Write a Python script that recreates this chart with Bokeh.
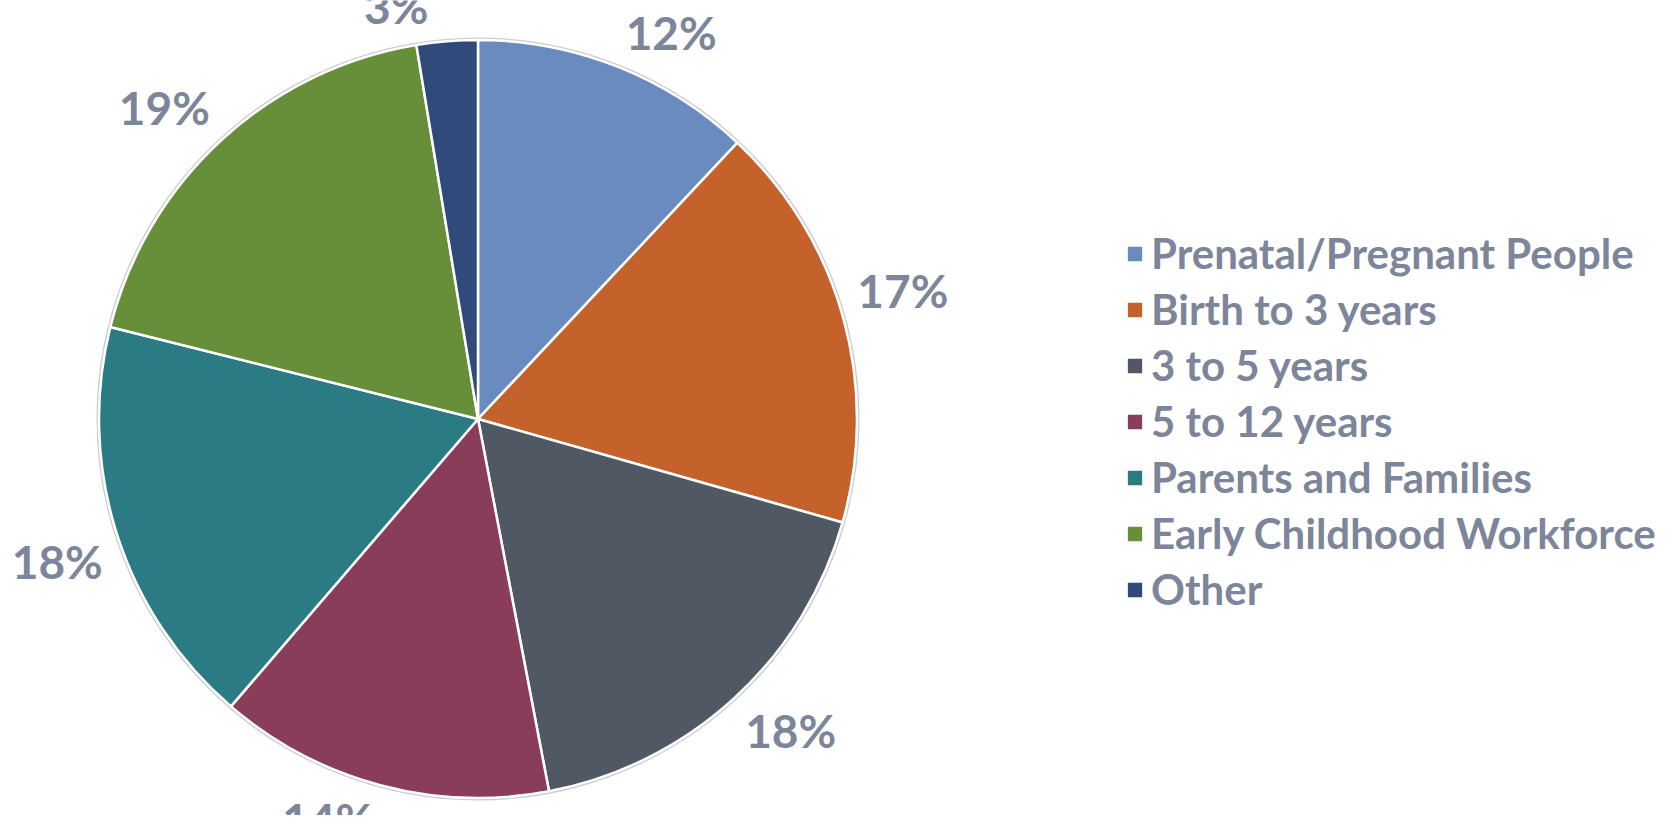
import math
from bokeh.plotting import figure
from bokeh.models import ColumnDataSource, Range1d, Legend, LegendItem
from bokeh.embed import file_html
from bokeh.resources import INLINE

# ---- data ----
categories = ["Prenatal/Pregnant People", "Birth to 3 years", "3 to 5 years",
              "5 to 12 years", "Parents and Families", "Early Childhood Workforce", "Other"]
shares = [12.0, 17.4, 17.6, 14.3, 17.6, 18.5, 2.6]
share_labels = ["12%", "17%", "18%", "14%", "18%", "19%", "3%"]
colors = ["#6A8BC0", "#C5612A", "#505863", "#8A3C5B", "#2B7B85", "#678E38", "#2F4A7B"]

# ---- layout (1 unit = 1 px, data y = -screen y) ----
W, H = 1661, 815
cx, cy, R = 477.5, -418.5, 379.0
text_col = "#7C859A"
FONT = "Lato"

total = sum(shares)
starts, ends, mids = [], [], []
acc = 0.0
for v in shares:
    a0 = math.pi / 2 - 2 * math.pi * acc / total
    acc += v
    a1 = math.pi / 2 - 2 * math.pi * acc / total
    starts.append(a1)
    ends.append(a0)
    mids.append((a0 + a1) / 2)

src = ColumnDataSource(dict(cat=categories, start=starts, end=ends, color=colors))

p = figure(width=W, height=H, output_backend="svg", toolbar_location=None,
           x_range=Range1d(0, W), y_range=Range1d(-H, 0),
           min_border=0, outline_line_color=None)
p.axis.visible = False
p.grid.visible = False

p.circle(x=cx, y=cy, radius=R + 1.5, fill_alpha=0, line_color="#C9CDD2", line_width=2)
wr = p.wedge(x=cx, y=cy, radius=R, start_angle="start", end_angle="end",
             fill_color="color", line_color="white", line_width=2.5, source=src)

# data labels, outside end: label box corner sits just outside the arc
pad, bw, bh = 10, 100, 50
lx, ly = [], []
for m in mids:
    s, c = math.cos(m), math.sin(m)   # s: rightwards, c: upwards
    px = cx + (R + pad) * s
    py = cy + (R + pad) * c
    lx.append(px + math.copysign(bw / 2, s))
    ly.append(py + math.copysign(bh / 2, c))
lsrc = ColumnDataSource(dict(x=lx, y=ly, t=share_labels))
p.text(x="x", y="y", text="t", source=lsrc, text_align="center", text_baseline="middle",
       text_font_size="46px", text_font_style="bold", text_color=text_col,
       text_font={"value": FONT})

items = [LegendItem(label=categories[i], renderers=[wr], index=i) for i in range(len(categories))]
legend = Legend(items=items, location=(1124, 201), orientation="vertical",
                label_text_font=FONT, label_text_font_size="42px", label_text_font_style="bold",
                label_text_color=text_col, glyph_width=21, glyph_height=21,
                label_standoff=6, spacing=6, padding=0, margin=0,
                border_line_color=None, background_fill_alpha=0)
p.add_layout(legend, "center")

open("out.html", "w").write(file_html(p, INLINE))
